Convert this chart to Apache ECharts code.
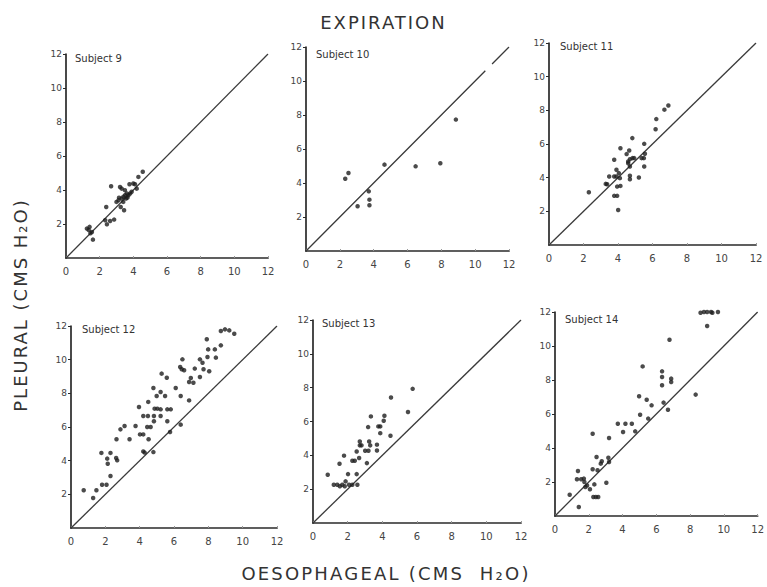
<!DOCTYPE html>
<html>
<head>
<meta charset="utf-8">
<script src="https://cdn.jsdelivr.net/npm/echarts@6/dist/echarts.min.js"></script>
<style>
  html, body { margin: 0; padding: 0; background: #ffffff; }
  #chart { width: 767px; height: 587px; }
</style>
</head>
<body>
<div id="chart"></div>
<script>
// Pleural vs oesophageal pressure during expiration, one panel per subject (cm H2O)
const subjects = ['Subject 9', 'Subject 10', 'Subject 11', 'Subject 12', 'Subject 13', 'Subject 14'];
const tickValues = [0, 2, 4, 6, 8, 10, 12];
const mainTitle = 'EXPIRATION';
const yTitle = 'PLEURAL (CMS H₂O)';
const xTitle = 'OESOPHAGEAL (CMS  H₂O)';

const subject9 = [
  [1.24, 1.73], [1.40, 1.83], [1.54, 1.53], [1.60, 1.08], [1.35, 1.65], [1.45, 1.45],
  [2.33, 2.22], [2.43, 1.98], [2.62, 2.18], [2.86, 2.26], [2.39, 3.00], [2.68, 4.22],
  [3.00, 3.30], [3.12, 3.40], [3.31, 3.50], [3.41, 3.60], [3.51, 3.69], [3.61, 3.79],
  [3.71, 3.69], [3.81, 3.79], [3.25, 3.00], [3.45, 2.81], [3.21, 4.18], [3.31, 4.08],
  [3.50, 3.99], [3.57, 3.50], [3.77, 4.34], [4.00, 4.38], [4.20, 4.08], [4.10, 4.34],
  [4.30, 4.77], [4.56, 5.07], [3.15, 3.55], [3.65, 3.55], [3.40, 3.30], [3.90, 3.90]
];
const subject10 = [
  [2.32, 4.25], [2.51, 4.59], [4.64, 5.08], [6.48, 4.98], [7.94, 5.16],
  [8.86, 7.73], [3.71, 3.51], [3.75, 3.02], [3.75, 2.69], [3.05, 2.63]
];
const subject11 = [
  [2.31, 3.13], [3.29, 3.63], [3.37, 3.61], [3.78, 5.06], [3.78, 4.07], [3.91, 4.07],
  [3.78, 2.92], [3.95, 2.92], [4.01, 2.08], [3.95, 3.47], [4.14, 3.51], [4.05, 4.27],
  [4.14, 5.75], [4.11, 3.97], [4.50, 5.40], [4.59, 4.96], [4.69, 5.10], [4.65, 5.61],
  [4.69, 4.66], [4.69, 4.11], [4.69, 3.91], [4.83, 6.35], [4.84, 5.16], [4.94, 5.16],
  [4.59, 4.86], [5.21, 4.01], [5.37, 5.16], [5.50, 5.16], [5.52, 6.01], [5.56, 5.42],
  [5.52, 4.66], [6.18, 6.88], [6.22, 7.48], [6.69, 8.04], [6.92, 8.29], [3.49, 4.07],
  [3.91, 4.47]
];
const subject12 = [
  [0.74, 2.24], [1.29, 1.78], [1.48, 2.24], [1.81, 2.57], [2.07, 2.57], [2.30, 3.09],
  [1.77, 4.46], [2.11, 4.12], [2.14, 3.82], [2.30, 4.46], [2.63, 4.16], [2.69, 4.02],
  [2.65, 5.27], [2.88, 5.86], [3.12, 6.06], [3.41, 5.27], [3.76, 6.06], [3.96, 7.19],
  [4.02, 5.56], [4.21, 5.56], [4.21, 4.55], [4.29, 4.48], [4.21, 6.65], [4.48, 6.65],
  [4.50, 7.49], [4.52, 5.27], [4.44, 6.00], [4.64, 6.00], [4.80, 8.32], [4.83, 6.65],
  [4.83, 6.34], [4.80, 4.51], [4.87, 7.09], [5.03, 7.09], [5.22, 7.05], [4.99, 7.84],
  [5.22, 8.08], [5.28, 9.17], [5.48, 7.84], [5.58, 8.93], [5.61, 7.05], [5.81, 7.05],
  [5.61, 6.34], [5.22, 6.65], [5.77, 5.70], [6.10, 8.32], [6.39, 7.84], [6.39, 6.14],
  [6.49, 10.02], [6.36, 9.56], [6.45, 9.43], [6.59, 9.37], [6.88, 8.67], [6.88, 7.58],
  [6.98, 8.91], [7.21, 9.47], [7.51, 8.97], [7.51, 10.02], [7.66, 9.82], [7.72, 9.43],
  [7.91, 11.21], [7.99, 10.61], [7.95, 10.16], [8.05, 9.31], [8.38, 10.61], [8.44, 10.12],
  [8.73, 10.85], [8.73, 11.70], [8.97, 11.80], [9.22, 11.74], [9.51, 11.54], [7.13, 8.63]
];
const subject13 = [
  [0.85, 2.85], [1.53, 3.50], [1.79, 3.98], [1.20, 2.26], [1.40, 2.26], [1.55, 2.17],
  [1.69, 2.26], [1.83, 2.17], [1.88, 2.46], [2.08, 2.26], [2.27, 2.26], [2.02, 2.89],
  [2.52, 2.89], [2.27, 3.68], [2.41, 3.68], [2.52, 4.23], [2.66, 3.84], [2.70, 4.59],
  [2.80, 4.59], [2.70, 4.82], [3.01, 4.27], [3.20, 4.27], [3.11, 3.54], [3.24, 4.82],
  [3.30, 4.59], [3.18, 5.67], [3.34, 6.30], [3.69, 4.63], [3.69, 4.29], [3.77, 5.71],
  [3.88, 5.71], [3.88, 5.31], [4.08, 6.04], [4.12, 6.34], [4.47, 5.16], [4.50, 7.42],
  [5.48, 6.56], [5.75, 7.93], [2.56, 2.26]
];
const subject14 = [
  [0.87, 1.25], [1.41, 0.53], [1.36, 2.65], [1.30, 2.16], [1.55, 2.16], [1.71, 2.20],
  [1.74, 2.00], [1.80, 1.71], [1.90, 1.80], [2.07, 1.57], [2.23, 2.75], [2.33, 1.86],
  [2.27, 1.12], [2.42, 1.12], [2.56, 1.12], [2.46, 3.47], [2.52, 2.69], [2.71, 3.08],
  [2.77, 3.22], [3.04, 1.96], [3.16, 3.43], [3.20, 3.18], [3.20, 4.59], [2.23, 4.84],
  [3.72, 5.43], [4.03, 4.94], [4.17, 5.43], [4.55, 5.43], [4.75, 4.98], [4.98, 7.04],
  [5.04, 5.96], [5.19, 8.80], [5.43, 6.84], [5.52, 5.73], [5.72, 6.51], [6.34, 8.51],
  [6.34, 8.18], [6.34, 7.69], [6.43, 6.67], [6.69, 6.25], [6.78, 10.37], [6.88, 8.08],
  [6.88, 7.88], [8.33, 7.14], [8.62, 11.96], [8.82, 12.00], [9.01, 12.00], [9.24, 12.00],
  [9.32, 11.96], [9.65, 12.00], [9.01, 11.18]
];
const subjectData = [subject9, subject10, subject11, subject12, subject13, subject14];

// Line of identity; the Subject 10 panel has a short break near the top
const identityLine = [[0, 0], [12, 12]];
const identityLineBroken = [[0, 0], [10.6, 10.6], null, [11.0, 11.0], [12, 12]];
const identityLines = [identityLine, identityLineBroken, identityLine, identityLine, identityLine, identityLine];

// Plot frames (pixel boxes) for the 2 x 3 layout
const frames = [
  { left: 66,  top: 54,  width: 202, height: 204 },
  { left: 306, top: 47,  width: 203, height: 204 },
  { left: 549, top: 43,  width: 207, height: 202 },
  { left: 71,  top: 326, width: 206, height: 202 },
  { left: 313, top: 320, width: 208, height: 203 },
  { left: 555, top: 312, width: 207, height: 204 }
];
const labelPos = [
  { left: 75,  top: 53 },
  { left: 316, top: 49 },
  { left: 560, top: 41 },
  { left: 82,  top: 324 },
  { left: 322, top: 318 },
  { left: 565, top: 314 }
];

const ink = '#2a2a2a';
const tickText = '#444';
const fontFamily = '"DejaVu Sans", "Liberation Sans", sans-serif';

const grid = [], xAxis = [], yAxis = [], series = [], title = [];

frames.forEach(function (f, i) {
  grid.push({ left: f.left, top: f.top, width: f.width, height: f.height, containLabel: false });
  xAxis.push({
    type: 'value', gridIndex: i, min: tickValues[0], max: tickValues[tickValues.length - 1], interval: 2,
    axisLine: { show: true, onZero: false, lineStyle: { color: ink, width: 1.7 } },
    axisTick: { show: true, inside: true, length: 2, lineStyle: { color: '#999', width: 1 } },
    splitLine: { show: false },
    axisLabel: { color: tickText, fontSize: 10, margin: 8, fontFamily: fontFamily }
  });
  yAxis.push({
    type: 'value', gridIndex: i, min: tickValues[0], max: tickValues[tickValues.length - 1], interval: 2,
    axisLine: { show: true, onZero: false, lineStyle: { color: ink, width: 1.7 } },
    axisTick: { show: true, inside: false, length: 3, lineStyle: { color: ink, width: 1 } },
    splitLine: { show: false },
    axisLabel: { color: tickText, fontSize: 9, margin: 4, showMinLabel: false, fontFamily: fontFamily }
  });
  series.push({
    type: 'line', xAxisIndex: i, yAxisIndex: i, data: identityLines[i],
    showSymbol: false, symbol: 'none', connectNulls: false, silent: true,
    lineStyle: { color: '#3a3a3a', width: 1.3 }, z: 2
  });
  series.push({
    type: 'scatter', xAxisIndex: i, yAxisIndex: i, data: subjectData[i],
    symbol: 'circle', symbolSize: 4.5, clip: false,
    itemStyle: { color: '#1e1e1e' }, z: 3
  });
  title.push({
    text: subjects[i], left: labelPos[i].left, top: labelPos[i].top, padding: 0,
    textStyle: { fontSize: 10, fontWeight: 'normal', color: '#333', fontFamily: fontFamily }
  });
});

title.push({
  text: mainTitle, left: 'center', top: 13, padding: 0,
  textStyle: { fontSize: 18, fontWeight: 'normal', color: '#333', fontFamily: fontFamily }
});

const chart = echarts.init(document.getElementById('chart'), null, { renderer: 'svg' });
chart.setOption({
  backgroundColor: '#ffffff',
  animation: false,
  title: title,
  grid: grid,
  xAxis: xAxis,
  yAxis: yAxis,
  series: series,
  graphic: [
    {
      type: 'text', x: 20, y: 305, rotation: Math.PI / 2,
      style: {
        text: yTitle, align: 'center', verticalAlign: 'middle',
        fontSize: 18, fill: '#333', fontFamily: fontFamily
      }
    },
    {
      type: 'text', x: 386, y: 573,
      style: {
        text: xTitle, align: 'center', verticalAlign: 'middle',
        fontSize: 18, fill: '#333', fontFamily: fontFamily
      }
    }
  ]
});

// Spaced-out lettering for the headline and the two axis titles
const spacing = {};
spacing[mainTitle] = '2px';
spacing[yTitle] = '2px';
spacing[xTitle] = '2.2px';
document.querySelectorAll('#chart svg text').forEach(function (t) {
  const s = spacing[t.textContent];
  if (s) { t.style.letterSpacing = s; }
});
</script>
</body>
</html>
